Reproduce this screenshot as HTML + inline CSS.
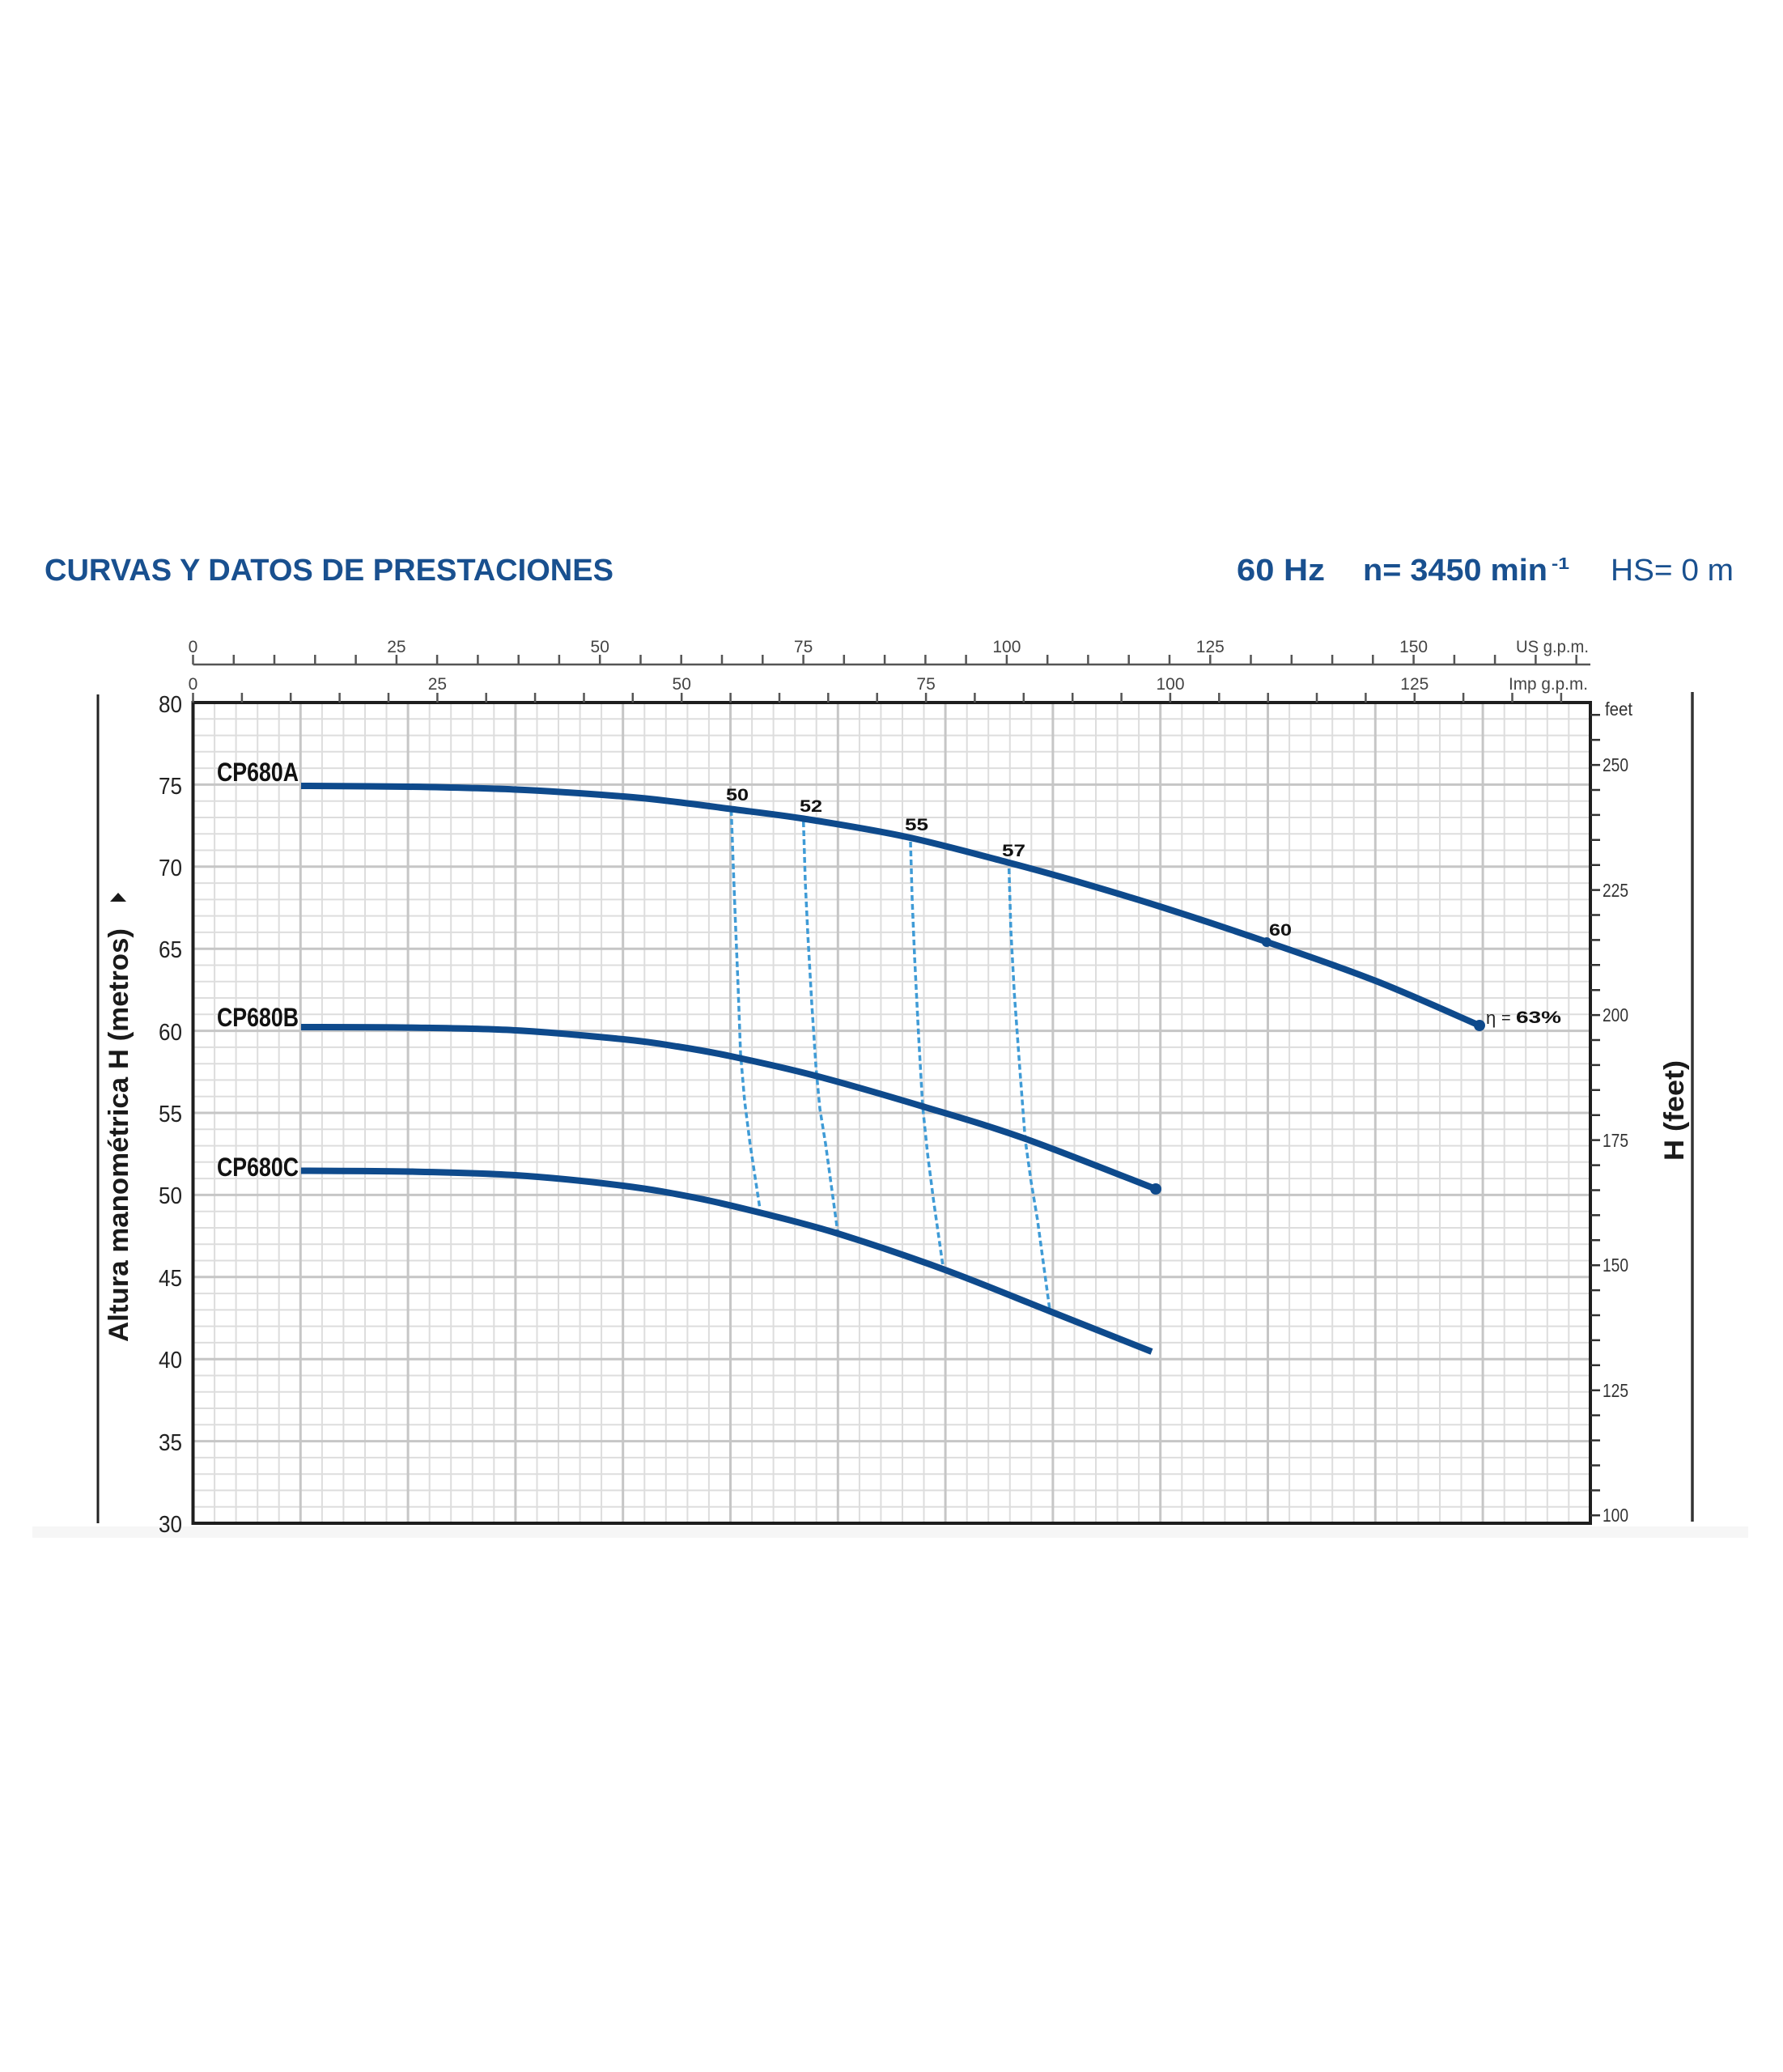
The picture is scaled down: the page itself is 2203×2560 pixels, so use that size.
<!DOCTYPE html>
<html>
<head>
<meta charset="utf-8">
<style>
html,body{margin:0;padding:0;background:#fff;}
svg{display:block;}
text{font-family:"Liberation Sans",Arial,sans-serif;}
</style>
</head>
<body>
<svg width="2203" height="2560" viewBox="0 0 2203 2560" xmlns="http://www.w3.org/2000/svg">
<rect x="0" y="0" width="2203" height="2560" fill="#fff"/>

<!-- Header -->
<text x="55" y="717" font-size="38" font-weight="bold" fill="#19508f" textLength="703" lengthAdjust="spacingAndGlyphs">CURVAS Y DATOS DE PRESTACIONES</text>
<text x="1528" y="717" font-size="38" font-weight="bold" fill="#19508f" textLength="109" lengthAdjust="spacingAndGlyphs">60 Hz</text>
<text x="1684" y="717" font-size="38" font-weight="bold" fill="#19508f" textLength="228" lengthAdjust="spacingAndGlyphs">n= 3450 min</text>
<text x="1917" y="703" font-size="20" font-weight="bold" fill="#19508f" textLength="22" lengthAdjust="spacingAndGlyphs">-1</text>
<text x="1990" y="717" font-size="38" fill="#19508f" textLength="152" lengthAdjust="spacingAndGlyphs">HS= 0 m</text>

<!-- faint band -->
<rect x="40" y="1886" width="2120" height="14" fill="#f6f6f6"/>

<!-- Grid minor vertical -->
<path fill="none" stroke="#dddddd" stroke-width="2" d="M265.1 868V1882M291.6 868V1882M318.2 868V1882M344.7 868V1882M397.9 868V1882M424.4 868V1882M451 868V1882M477.5 868V1882M530.7 868V1882M557.2 868V1882M583.8 868V1882M610.3 868V1882M663.5 868V1882M690 868V1882M716.6 868V1882M743.1 868V1882M796.3 868V1882M822.8 868V1882M849.4 868V1882M875.9 868V1882M929.1 868V1882M955.6 868V1882M982.2 868V1882M1008.7 868V1882M1061.9 868V1882M1088.4 868V1882M1115 868V1882M1141.5 868V1882M1194.7 868V1882M1221.2 868V1882M1247.8 868V1882M1274.3 868V1882M1327.5 868V1882M1354 868V1882M1380.6 868V1882M1407.1 868V1882M1460.3 868V1882M1486.8 868V1882M1513.4 868V1882M1539.9 868V1882M1593.1 868V1882M1619.6 868V1882M1646.2 868V1882M1672.7 868V1882M1725.9 868V1882M1752.4 868V1882M1779 868V1882M1805.5 868V1882M1858.7 868V1882M1885.2 868V1882M1911.8 868V1882M1938.3 868V1882"/>
<!-- Grid minor horizontal -->
<path fill="none" stroke="#dddddd" stroke-width="2" d="M238.5 888.3H1965M238.5 908.6H1965M238.5 928.8H1965M238.5 949.1H1965M238.5 989.7H1965M238.5 1010H1965M238.5 1030.2H1965M238.5 1050.5H1965M238.5 1091.1H1965M238.5 1111.4H1965M238.5 1131.6H1965M238.5 1151.9H1965M238.5 1192.5H1965M238.5 1212.8H1965M238.5 1233H1965M238.5 1253.3H1965M238.5 1293.9H1965M238.5 1314.2H1965M238.5 1334.4H1965M238.5 1354.7H1965M238.5 1395.3H1965M238.5 1415.6H1965M238.5 1435.8H1965M238.5 1456.1H1965M238.5 1496.7H1965M238.5 1517H1965M238.5 1537.2H1965M238.5 1557.5H1965M238.5 1598.1H1965M238.5 1618.4H1965M238.5 1638.6H1965M238.5 1658.9H1965M238.5 1699.5H1965M238.5 1719.8H1965M238.5 1740H1965M238.5 1760.3H1965M238.5 1800.9H1965M238.5 1821.2H1965M238.5 1841.4H1965M238.5 1861.7H1965"/>
<!-- Grid major -->
<path fill="none" stroke="#c6c6c6" stroke-width="3" d="M371.3 868V1882M504.1 868V1882M636.9 868V1882M769.7 868V1882M902.5 868V1882M1035.3 868V1882M1168.1 868V1882M1300.9 868V1882M1433.7 868V1882M1566.5 868V1882M1699.3 868V1882M1832.1 868V1882M238.5 969.4H1965M238.5 1070.8H1965M238.5 1172.2H1965M238.5 1273.6H1965M238.5 1375H1965M238.5 1476.4H1965M238.5 1577.8H1965M238.5 1679.2H1965M238.5 1780.6H1965"/>

<!-- Frame -->
<rect x="238.5" y="868" width="1726.5" height="1014" fill="none" stroke="#1e1e1e" stroke-width="4"/>

<!-- Top US gpm axis -->
<line x1="238.5" y1="821" x2="1965" y2="821" stroke="#555" stroke-width="2.5"/>
<path fill="none" stroke="#555" stroke-width="2.5" d="M238.5 809V821M288.8 809V821M339 809V821M389.3 809V821M439.6 809V821M489.9 809V821M540.1 809V821M590.4 809V821M640.7 809V821M690.9 809V821M741.2 809V821M791.5 809V821M841.7 809V821M892 809V821M942.3 809V821M992.6 809V821M1042.8 809V821M1093.1 809V821M1143.4 809V821M1193.6 809V821M1243.9 809V821M1294.2 809V821M1344.4 809V821M1394.7 809V821M1445 809V821M1495.3 809V821M1545.5 809V821M1595.8 809V821M1646.1 809V821M1696.3 809V821M1746.6 809V821M1796.9 809V821M1847.1 809V821M1897.4 809V821M1947.7 809V821"/>
<g font-size="21" fill="#444" text-anchor="middle">
<text x="238.5" y="806">0</text>
<text x="489.9" y="806">25</text>
<text x="741.2" y="806">50</text>
<text x="992.6" y="806">75</text>
<text x="1243.9" y="806">100</text>
<text x="1495.3" y="806">125</text>
<text x="1746.6" y="806">150</text>
</g>
<text x="1873" y="806" font-size="21" fill="#444" textLength="90" lengthAdjust="spacingAndGlyphs">US g.p.m.</text>

<!-- Imp gpm axis -->
<path fill="none" stroke="#555" stroke-width="2.5" d="M238.5 856V868M298.9 856V868M359.2 856V868M419.6 856V868M480 856V868M540.4 856V868M600.7 856V868M661.1 856V868M721.5 856V868M781.8 856V868M842.2 856V868M902.6 856V868M963 856V868M1023.3 856V868M1083.7 856V868M1144.1 856V868M1204.4 856V868M1264.8 856V868M1325.2 856V868M1385.6 856V868M1445.9 856V868M1506.3 856V868M1566.7 856V868M1627 856V868M1687.4 856V868M1747.8 856V868M1808.1 856V868M1868.5 856V868M1928.9 856V868"/>
<g font-size="21" fill="#444" text-anchor="middle">
<text x="238.5" y="852">0</text>
<text x="540.4" y="852">25</text>
<text x="842.2" y="852">50</text>
<text x="1144.1" y="852">75</text>
<text x="1446" y="852">100</text>
<text x="1747.8" y="852">125</text>
</g>
<text x="1864" y="852" font-size="21" fill="#444" textLength="98" lengthAdjust="spacingAndGlyphs">Imp g.p.m.</text>

<!-- Left y labels -->
<g font-size="29" fill="#222" text-anchor="end">
<text x="225" y="880" textLength="29" lengthAdjust="spacingAndGlyphs">80</text>
<text x="225" y="981" textLength="29" lengthAdjust="spacingAndGlyphs">75</text>
<text x="225" y="1082" textLength="29" lengthAdjust="spacingAndGlyphs">70</text>
<text x="225" y="1183" textLength="29" lengthAdjust="spacingAndGlyphs">65</text>
<text x="225" y="1285" textLength="29" lengthAdjust="spacingAndGlyphs">60</text>
<text x="225" y="1386" textLength="29" lengthAdjust="spacingAndGlyphs">55</text>
<text x="225" y="1487" textLength="29" lengthAdjust="spacingAndGlyphs">50</text>
<text x="225" y="1589" textLength="29" lengthAdjust="spacingAndGlyphs">45</text>
<text x="225" y="1690" textLength="29" lengthAdjust="spacingAndGlyphs">40</text>
<text x="225" y="1792" textLength="29" lengthAdjust="spacingAndGlyphs">35</text>
<text x="225" y="1893" textLength="29" lengthAdjust="spacingAndGlyphs">30</text>
</g>

<!-- Right feet axis -->
<path fill="none" stroke="#333" stroke-width="2.5" d="M1965 1872.3H1977M1965 1841.4H1977M1965 1810.5H1977M1965 1779.6H1977M1965 1748.6H1977M1965 1717.7H1977M1965 1686.8H1977M1965 1655.9H1977M1965 1625H1977M1965 1594.1H1977M1965 1563.2H1977M1965 1532.3H1977M1965 1501.4H1977M1965 1470.5H1977M1965 1439.6H1977M1965 1408.6H1977M1965 1377.7H1977M1965 1346.8H1977M1965 1315.9H1977M1965 1285H1977M1965 1254.1H1977M1965 1223.2H1977M1965 1192.3H1977M1965 1161.4H1977M1965 1130.5H1977M1965 1099.6H1977M1965 1068.7H1977M1965 1037.8H1977M1965 1006.9H1977M1965 976H1977M1965 945.1H1977M1965 914.1H1977M1965 883.2H1977"/>
<g font-size="23" fill="#333">
<text x="1980" y="1880" textLength="32" lengthAdjust="spacingAndGlyphs">100</text>
<text x="1980" y="1726" textLength="32" lengthAdjust="spacingAndGlyphs">125</text>
<text x="1980" y="1571" textLength="32" lengthAdjust="spacingAndGlyphs">150</text>
<text x="1980" y="1417" textLength="32" lengthAdjust="spacingAndGlyphs">175</text>
<text x="1980" y="1262" textLength="32" lengthAdjust="spacingAndGlyphs">200</text>
<text x="1980" y="1108" textLength="32" lengthAdjust="spacingAndGlyphs">225</text>
<text x="1980" y="953" textLength="32" lengthAdjust="spacingAndGlyphs">250</text>
<text x="1983" y="884" textLength="34" lengthAdjust="spacingAndGlyphs">feet</text>
</g>

<!-- Outer vertical lines -->
<line x1="121" y1="858" x2="121" y2="1882" stroke="#222" stroke-width="3"/>
<line x1="2091" y1="855" x2="2091" y2="1880" stroke="#333" stroke-width="3.5"/>

<!-- Axis titles -->
<text transform="translate(158,1658) rotate(-90)" font-size="34" font-weight="bold" fill="#1a1a1a" textLength="511" lengthAdjust="spacingAndGlyphs">Altura manométrica H (metros)</text>
<polygon points="136,1114 156,1114 146,1103" fill="#1a1a1a"/>
<text transform="translate(2080,1434) rotate(-90)" font-size="34" font-weight="bold" fill="#1a1a1a" textLength="124" lengthAdjust="spacingAndGlyphs">H (feet)</text>

<!-- Dashed iso-efficiency lines -->
<g fill="none" stroke="#3f9bd6" stroke-width="3.5" stroke-dasharray="7 4">
<polyline points="903.5,1001 906,1070 908.5,1135 912,1220 915,1302 920,1360 926.7,1413 939,1494"/>
<polyline points="992.7,1015 995,1090 998.3,1158 1003,1240 1008.3,1320 1013,1370 1020,1413 1035,1522"/>
<polyline points="1125,1040 1127,1110 1130,1181.5 1135,1280 1140,1367 1146,1425 1153.3,1482 1165,1564"/>
<polyline points="1246.7,1073 1249,1150 1253.3,1228 1260,1320 1266.7,1408 1274,1460 1281.7,1506 1296.7,1616"/>
</g>

<!-- Pump curves -->
<g fill="none" stroke="#0e4a8c" stroke-width="8" stroke-linejoin="round">
<path d="M372 971 C394.2 971.2 460.8 971.25 505 972 C549.2 972.75 592.8 973.5 637 975.5 C681.2 977.5 736.7 981.4 770 984 C803.3 986.6 814.8 988.4 837 991 C859.2 993.6 877 996.1 903 999.5 C929 1002.9 956.8 1005.8 993 1011.5 C1029.2 1017.3 1077.7 1024.9 1120 1034 C1162.3 1043.1 1213.7 1057.3 1247 1066 C1280.3 1074.7 1289 1077 1320 1086 C1351 1095 1392 1107 1433 1120 C1474 1133 1521.5 1148.7 1566 1164 C1610.5 1179.3 1656.3 1194.8 1700 1212 C1743.7 1229.2 1806.7 1257.8 1828 1267"/>
<path d="M372 1269 C394.2 1269.1 460.8 1268.9 505 1269.6 C549.2 1270.3 592.8 1270.6 637 1273 C681.2 1275.4 736.7 1280.7 770 1284 C803.3 1287.3 814.8 1289.5 837 1293 C859.2 1296.5 874.7 1299 903 1305 C931.3 1311 967.5 1318.7 1007 1329 C1046.5 1339.3 1096.7 1354 1140 1367 C1183.3 1380 1219 1390 1267 1407 C1315 1424 1401.2 1458.7 1428 1469"/>
<path d="M372 1446.5 C394.2 1446.7 460.8 1446.6 505 1447.5 C549.2 1448.4 592.8 1449.1 637 1452 C681.2 1454.9 732.8 1460.3 770 1465 C807.2 1469.7 832 1474.5 860 1480 C888 1485.5 908.8 1490.7 938 1498 C967.2 1505.3 997.2 1512.3 1035 1524 C1072.8 1535.7 1121.3 1552 1165 1568 C1208.7 1584 1254 1603 1297 1620 C1340 1637 1402 1661.7 1423 1670"/>
</g>
<circle cx="1828" cy="1267" r="7" fill="#0e4a8c"/>
<circle cx="1428" cy="1469" r="7" fill="#0e4a8c"/>
<circle cx="1565" cy="1164" r="6" fill="#0e4a8c"/>

<!-- Curve labels -->
<g font-size="32" font-weight="bold" fill="#111">
<text x="268" y="965" textLength="101" lengthAdjust="spacingAndGlyphs">CP680A</text>
<text x="268" y="1268" textLength="101" lengthAdjust="spacingAndGlyphs">CP680B</text>
<text x="268" y="1453" textLength="101" lengthAdjust="spacingAndGlyphs">CP680C</text>
</g>

<!-- Efficiency labels -->
<g font-size="21" font-weight="bold" fill="#111">
<text x="897" y="989" textLength="28" lengthAdjust="spacingAndGlyphs">50</text>
<text x="988" y="1003" textLength="28" lengthAdjust="spacingAndGlyphs">52</text>
<text x="1118" y="1026" textLength="29" lengthAdjust="spacingAndGlyphs">55</text>
<text x="1238" y="1058" textLength="29" lengthAdjust="spacingAndGlyphs">57</text>
<text x="1568" y="1156" textLength="28" lengthAdjust="spacingAndGlyphs">60</text>
</g>
<text x="1836" y="1265" font-size="22" fill="#222">η</text>
<text x="1855" y="1264" font-size="20" fill="#222">=</text>
<text x="1873" y="1264" font-size="21" font-weight="bold" fill="#111" textLength="56" lengthAdjust="spacingAndGlyphs">63%</text>
</svg>
</body>
</html>
